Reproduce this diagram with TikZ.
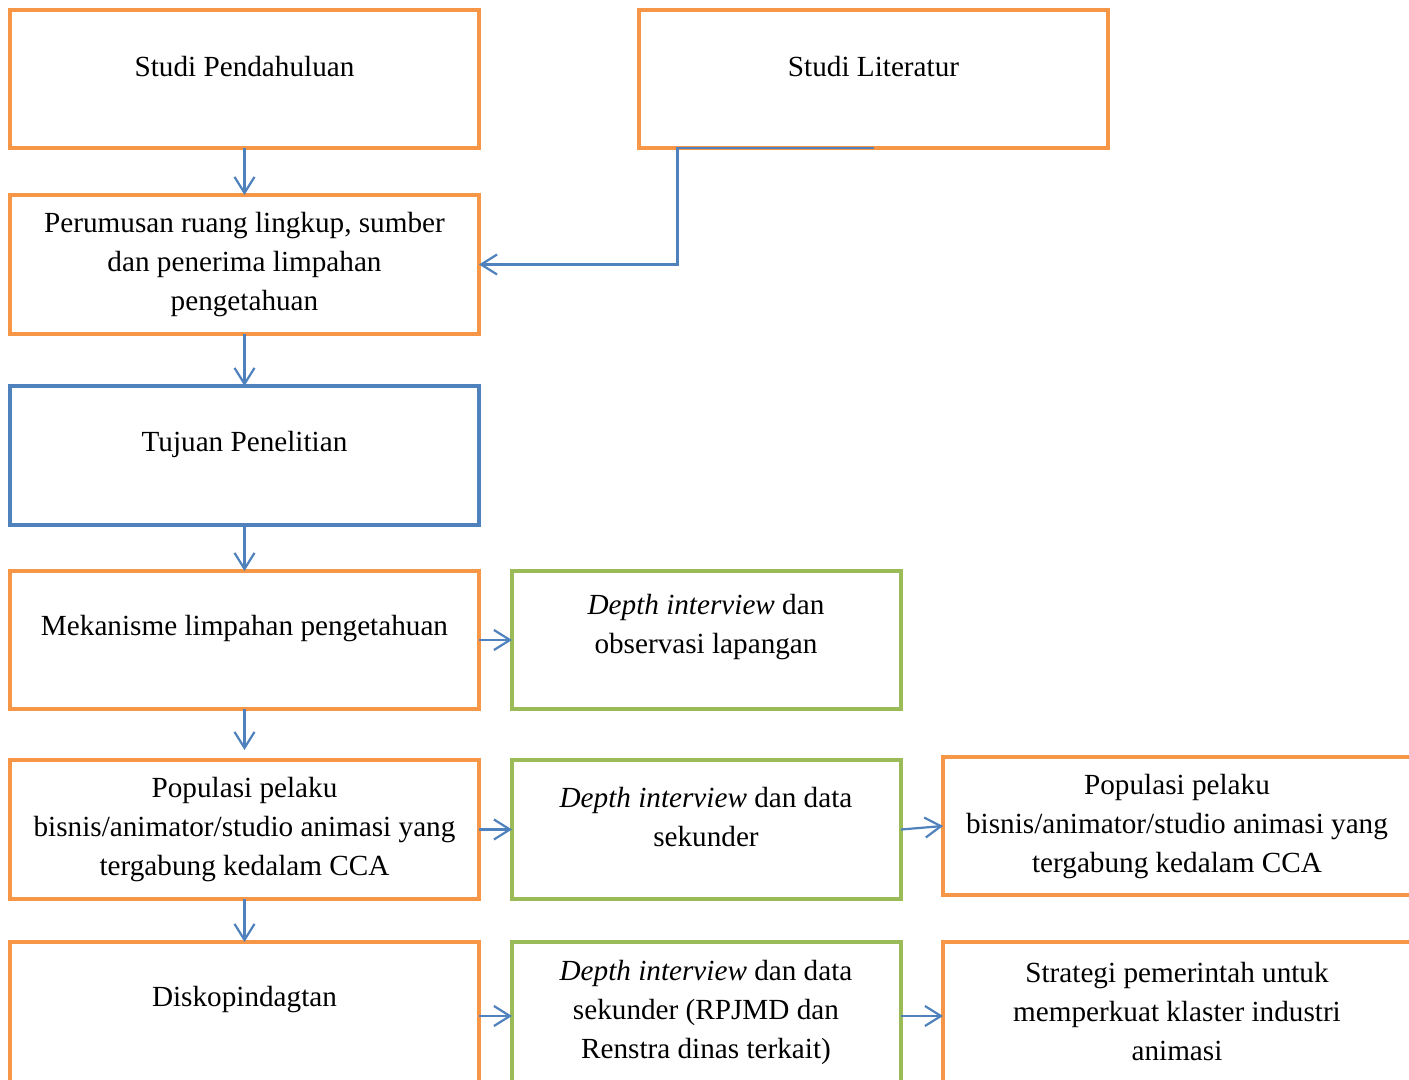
\documentclass[tikz,border=0pt]{standalone}
\usepackage{fontspec}
\setmainfont{Liberation Serif}
\usetikzlibrary{arrows.meta,fit}
\definecolor{borange}{HTML}{F79646}
\definecolor{bblue}{HTML}{4F81BD}
\definecolor{bgreen}{HTML}{9BBB59}
\tikzset{
  box/.style={draw, line width=2.2pt, inner sep=0pt, outer sep=0pt, rectangle},
  obox/.style={box, draw=borange},
  bbox/.style={box, draw=bblue},
  gbox/.style={box, draw=bgreen},
  txt/.style={align=center, inner sep=0pt, font=\fontsize{14.6pt}{19.5pt}\selectfont},
  arr/.style={draw=bblue, line width=1.1pt, -{Straight Barb[length=8pt,width=10pt,line width=1.1pt]}}
}
\begin{document}
\begin{tikzpicture}[x=0.5pt,y=-0.5pt]
\useasboundingbox (0,0) rectangle (1409,1080);
\clip (0,0) rectangle (1409,1080);
% boxes
\node[obox, fit={(10,10)(479,148)}] (b1) {};
\node[obox, fit={(639,10)(1108,148)}] (b2) {};
\node[obox, fit={(10,195)(479,334)}] (b3) {};
\node[bbox, fit={(10,386)(479,525)}] (b4) {};
\node[obox, fit={(10,571)(479,709)}] (b5) {};
\node[gbox, fit={(512,571)(901,709)}] (b6) {};
\node[obox, fit={(10,760)(479,899)}] (b7) {};
\node[gbox, fit={(512,760)(901,899)}] (b8) {};
\node[obox, fit={(943,757)(1415,895)}] (b9) {};
\node[obox, fit={(10,942)(479,1090)}] (b10) {};
\node[gbox, fit={(512,942)(901,1090)}] (b11) {};
\node[obox, fit={(943,942)(1415,1090)}] (b12) {};
% texts
\node[txt] (t1) at (244.5,67) {Studi Pendahuluan};
\node[txt] (t2) at (873.5,67) {Studi Literatur};
\node[txt] (t3) at (244.5,265) {Perumusan ruang lingkup, sumber\\dan penerima limpahan\\pengetahuan};
\node[txt] (t4) at (244.5,444) {Tujuan Penelitian};
\node[txt] (t5) at (244.5,629) {Mekanisme limpahan pengetahuan};
\node[txt] (t6) at (706,627) {\textit{Depth interview} dan\\observasi lapangan};
\node[txt] (t7) at (244.5,830) {Populasi pelaku\\bisnis/animator/studio animasi yang\\tergabung kedalam CCA};
\node[txt] (t8) at (706,817) {\textit{Depth interview} dan data\\sekunder};
\node[txt] (t9) at (1177,827) {Populasi pelaku\\bisnis/animator/studio animasi yang\\tergabung kedalam CCA};
\node[txt] (t10) at (244.5,1000) {Diskopindagtan};
\node[txt] (t11) at (706,1012) {\textit{Depth interview} dan data\\sekunder (RPJMD dan\\Renstra dinas terkait)};
\node[txt] (t12) at (1177,1012) {Strategi pemerintah untuk\\memperkuat klaster industri\\animasi};
% connectors
\draw[arr] (b1.south) -- (b3.north);
\draw[arr] (b3.south) -- (b4.north);
\draw[arr] (b4.south) -- (b5.north);
\draw[arr, shorten >=5pt] (b5.south) -- (b7.north);
\draw[arr] (b7.south) -- (b10.north);
\draw[arr] (b2.south) -- ++(-196,0) |- (b3.east);
\draw[arr] (b5.east) -- (b6.west);
\draw[arr] (b7.east) -- (b8.west);
\draw[arr] (b8.east) -- (b9.west);
\draw[arr] (b10.east |- b11.west) -- (b11.west);
\draw[arr] (b11.east) -- (b12.west);
\end{tikzpicture}
\end{document}
